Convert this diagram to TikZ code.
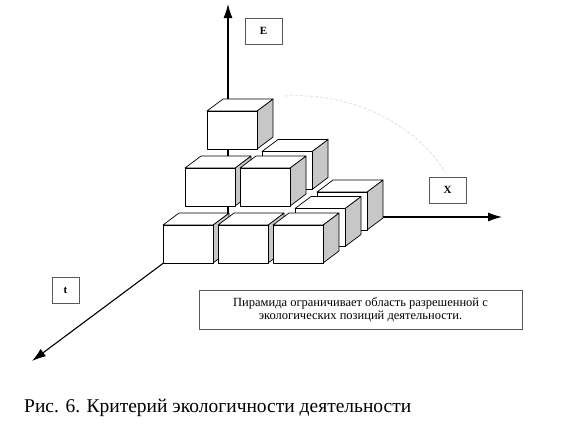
\documentclass[tikz,border=0pt]{standalone}
\usepackage{fontspec}
\setmainfont{Liberation Serif}
\usetikzlibrary{arrows.meta}
\tikzset{
  axis/.style={line width=1.1pt,-{Latex[length=14pt,width=9pt]}},
  labelbox/.style={draw=gray!70!black,line width=0.8pt,fill=white,minimum width=37pt,minimum height=26pt,inner sep=0pt,font=\fontsize{11}{12}\selectfont\bfseries},
  face/.style={fill=white,draw=black,line width=0.7pt,line join=round},
  sideface/.style={fill=black!22,draw=black,line width=0.7pt,line join=round}
}
\newcommand{\mycube}[3]{% col, row, layer
  \pgfmathsetmacro{\cx}{163+55*#1+22*#2}%
  \pgfmathsetmacro{\cy}{225-16.5*#2-40.5*#3}%
  \draw[sideface] (\cx+50,\cy) -- ++(16,-12) -- ++(0,38) -- ++(-16,12) -- cycle;
  \draw[face] (\cx,\cy) -- ++(16,-12) -- ++(50,0) -- ++(-16,12) -- cycle;
  \draw[face] (\cx,\cy) rectangle ++(50,38);
}
\begin{document}
\begin{tikzpicture}[x=1pt,y=-1pt]
\useasboundingbox[fill=white] (0,0) rectangle (561,437);
% faint arc
\draw[gray!25,line width=0.8pt,dash pattern=on 3pt off 2pt] (285,96) .. controls (360,92) and (420,130) .. (445,172);
% axes
\coordinate (O) at (228,215);
\coordinate (Etip) at (228,4);
\coordinate (Xtip) at (502,217);
\coordinate (Ttip) at (32,361);
\draw[axis] (O) -- (Etip);
\draw[axis] (O |- Xtip) -- (Xtip);
\draw[axis] (O) -- (Ttip);
% cubes (back to front)
\mycube{2}{2}{0}
\mycube{1}{2}{1}
\mycube{0}{2}{2}
\mycube{2}{1}{0}
\mycube{0}{1}{1}\mycube{1}{1}{1}
\mycube{0}{0}{0}\mycube{1}{0}{0}\mycube{2}{0}{0}
% labels
\node[labelbox] (E) at (263.5,31) {E};
\node[labelbox] (X) at (447.5,190) {X};
\node[labelbox,minimum width=27pt] (T) at (65.5,290) {t};
\node[draw=gray!70!black,line width=0.8pt,minimum width=323pt,minimum height=39pt,inner sep=0pt,align=center,font=\fontsize{12.5}{13}\selectfont] (note) at (360.5,309.5)
  {Пирамида ограничивает область разрешенной с\\экологических позиций деятельности.};
\node[anchor=west,inner sep=0pt,font=\fontsize{19.5}{21}\selectfont] (cap) at (24,408) {Рис. 6. Критерий экологичности деятельности};
\end{tikzpicture}
\end{document}
